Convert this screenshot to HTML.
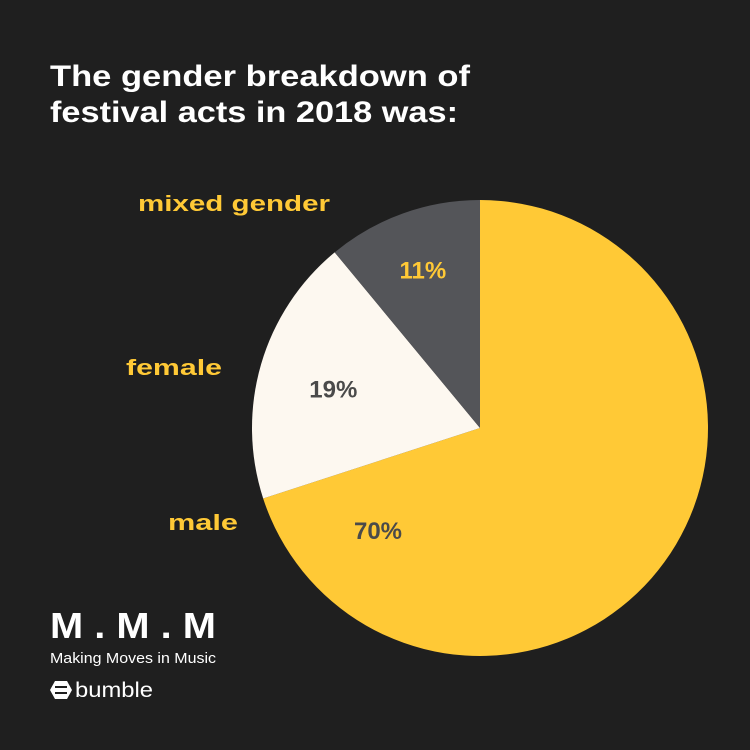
<!DOCTYPE html>
<html><head><meta charset="utf-8"><style>
body{margin:0;background:#1f1f1f;}
#c{position:relative;width:750px;height:750px;background:#1f1f1f;overflow:hidden;font-family:"Liberation Sans",sans-serif;}
</style></head><body>
<div id="c">
<svg id="s" width="750" height="750">
<text x="50" y="86" fill="#fff" font-size="30" font-weight="bold" textLength="420" lengthAdjust="spacingAndGlyphs">The gender breakdown of</text>
<text x="50" y="122" fill="#fff" font-size="30" font-weight="bold" textLength="408" lengthAdjust="spacingAndGlyphs">festival acts in 2018 was:</text>
<g id="slices"></g>
<text x="50" y="638" fill="#fff" font-size="36" font-weight="bold" textLength="166" lengthAdjust="spacingAndGlyphs">M . M . M</text>
<text x="50" y="663" fill="#fff" font-size="15" textLength="166" lengthAdjust="spacingAndGlyphs">Making Moves in Music</text>
<g>
<path d="M55,681 h12 l5,9 l-5,9 h-12 l-5,-9z" fill="#fff"/>
<rect x="55" y="686" width="12" height="2" fill="#1f1f1f"/><rect x="55" y="692" width="12" height="2" fill="#1f1f1f"/>
<text x="75" y="697" fill="#fff" font-size="21" textLength="78" lengthAdjust="spacingAndGlyphs">bumble</text>
</g>
</svg>
</div>
<script>
const categories=["male","female","mixed gender"];
const values=[70,19,11];
const pctLabels=["70%","19%","11%"];
const colors=["#ffc936","#fdf8f0","#545559"];
const textColors=["#4a4a4a","#4a4a4a","#ffc936"];
const cx=480,cy=428,r=228;
const g=document.getElementById('slices');
const ns="http://www.w3.org/2000/svg";
const total=values.reduce((a,b)=>a+b,0);
function pt(a,rr){return [cx+rr*Math.sin(a),cy-rr*Math.cos(a)];}
let start=0;
const labelPos=[[238,522,70],[222,367,96],[330,203,192]];
const rfs=[0.73,0.67,0.74];
const dys=[0,3,0];
values.forEach((v,i)=>{
  const ang=v/total*2*Math.PI,end=start+ang;
  const p0=pt(start,r),p1=pt(end,r);
  const path=document.createElementNS(ns,'path');
  path.setAttribute('d',`M${cx},${cy} L${p0[0]},${p0[1]} A${r},${r} 0 ${ang>Math.PI?1:0} 1 ${p1[0]},${p1[1]} Z`);
  path.setAttribute('fill',colors[i]);
  
  
  g.appendChild(path);
  const mid=(start+end)/2;
  let tp=pt(mid,r*rfs[i]);
  if(i==0) tp=[378,530];
  const t=document.createElementNS(ns,'text');
  t.setAttribute('x',tp[0]);t.setAttribute('y',tp[1]+9+dys[i]);
  t.setAttribute('text-anchor','middle');t.setAttribute('font-size','24');t.setAttribute('font-weight','bold');
  t.setAttribute('fill',textColors[i]);t.textContent=pctLabels[i];
  
  
  g.appendChild(t);
  const l=document.createElementNS(ns,'text');
  l.setAttribute('x',labelPos[i][0]-labelPos[i][2]);l.setAttribute('y',labelPos[i][1]+8);
  l.setAttribute('textLength',labelPos[i][2]);l.setAttribute('lengthAdjust','spacingAndGlyphs');
  l.setAttribute('font-size','22');l.setAttribute('font-weight','bold');
  l.setAttribute('fill','#ffc936');l.textContent=categories[i];
  
  
  g.appendChild(l);
  start=end;
});
</script>
</body></html>
